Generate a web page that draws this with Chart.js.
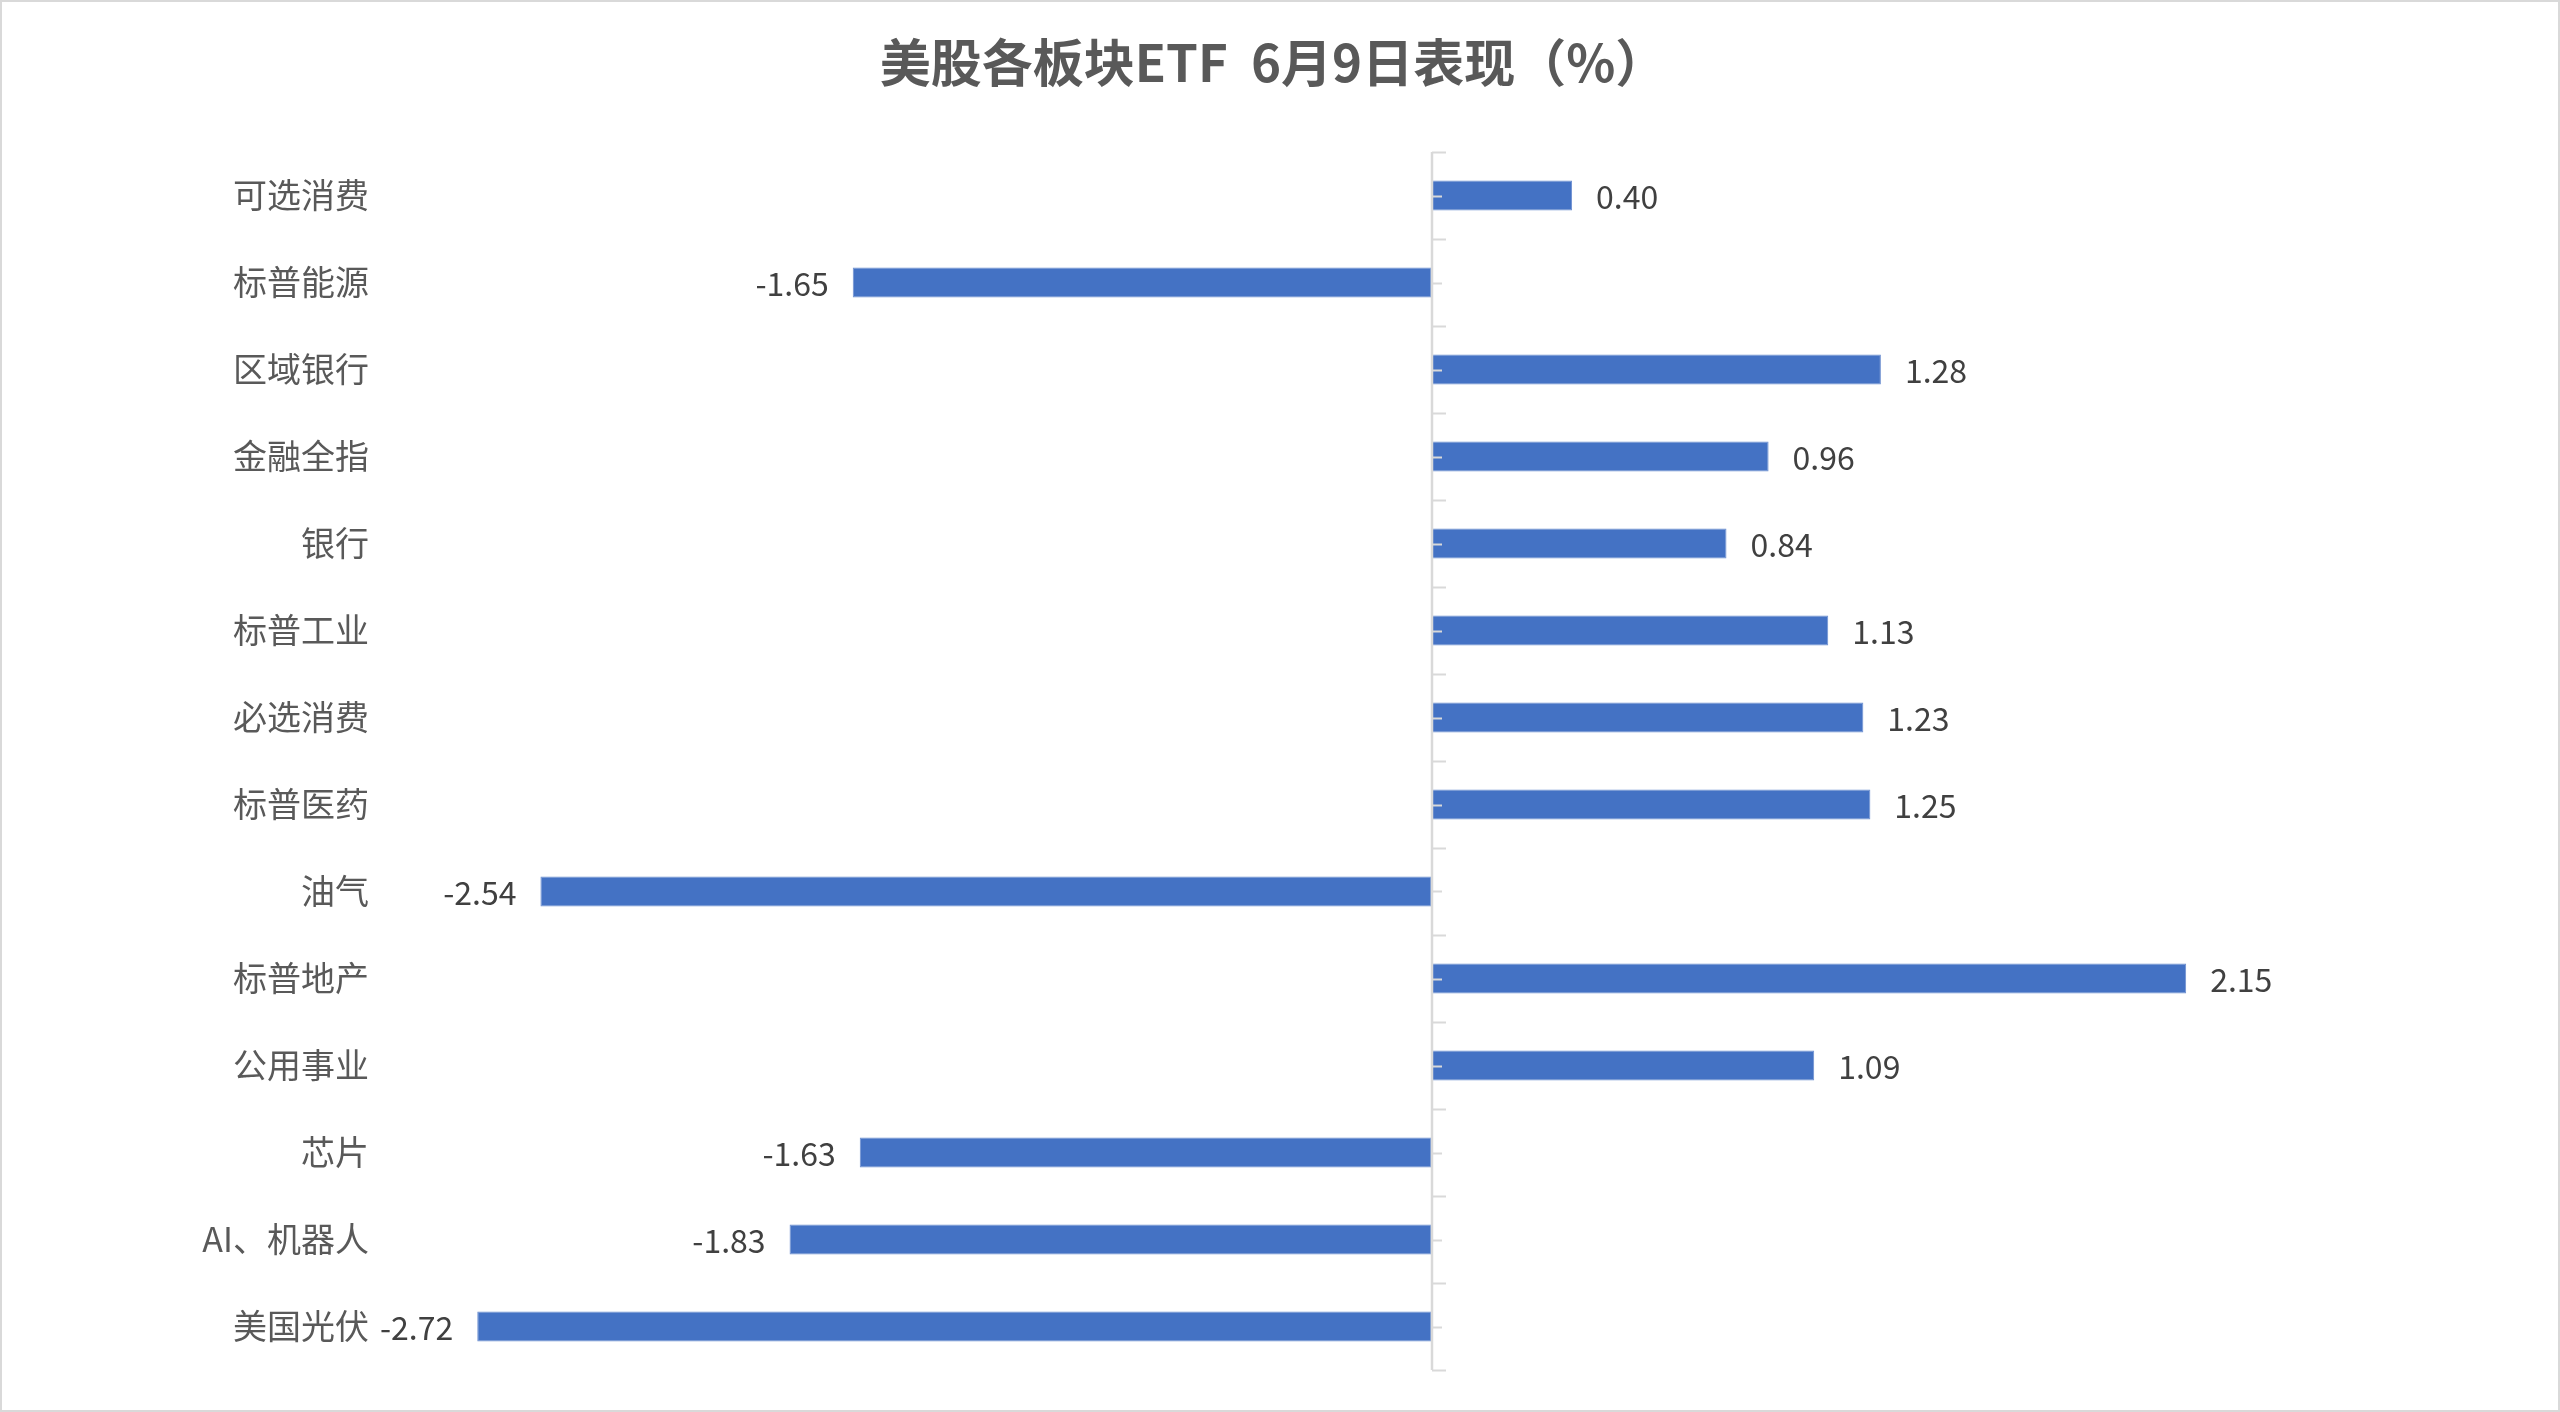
<!DOCTYPE html>
<html><head><meta charset="utf-8">
<script src="https://cdn.jsdelivr.net/npm/chart.js@4.4.1/dist/chart.umd.min.js"></script>
<style>
html,body{margin:0;padding:0;background:#fff;}
#wrap{position:relative;width:2560px;height:1412px;}
#frame{position:absolute;left:0;top:0;width:2556px;height:1408px;border:2px solid #d9d9d9;pointer-events:none;}
</style></head>
<body>
<div id="wrap"><canvas id="c" width="2560" height="1412"></canvas><div id="frame"></div></div>
<script>
const title = '美股各板块ETF  6月9日表现（%）';
const categories = ['可选消费','标普能源','区域银行','金融全指','银行','标普工业','必选消费','标普医药','油气','标普地产','公用事业','芯片','AI、机器人','美国光伏'];
const values = [0.40,-1.65,1.28,0.96,0.84,1.13,1.23,1.25,-2.54,2.15,1.09,-1.63,-1.83,-2.72];
const axisMin = -3, axisMax = 2.5;

const FONT = '"Noto Sans CJK SC", "Noto Sans", sans-serif';

const axisAndLabels = {
  id: 'axisAndLabels',
  afterDatasetsDraw(chart) {
    const ctx = chart.ctx, x = chart.scales.x, y = chart.scales.y;
    const x0 = Math.round(x.getPixelForValue(0));
    const n = categories.length;
    const step = (y.bottom - y.top) / n;
    ctx.save();
    // title
    ctx.font = 'bold 51px ' + FONT;
    ctx.fillStyle = '#595959';
    ctx.textAlign = 'center';
    ctx.textBaseline = 'middle';
    ctx.fillText(title, 1273, 63);
    ctx.strokeStyle = '#d9d9d9';
    ctx.lineWidth = 2.5;
    ctx.beginPath();
    ctx.moveTo(x0, y.top); ctx.lineTo(x0, y.bottom); ctx.stroke();
    ctx.lineWidth = 2;
    for (let i = 0; i <= n; i++) {
      const py = Math.round(y.top + i * step) + 0.5;
      ctx.beginPath(); ctx.moveTo(x0, py); ctx.lineTo(x0 + 14, py); ctx.stroke();
    }
    for (let i = 0; i < n; i++) {
      const py = Math.round(y.getPixelForTick(i)) + 0.5;
      ctx.beginPath(); ctx.moveTo(x0, py); ctx.lineTo(x0 + 10, py); ctx.stroke();
    }
    // data labels
    const meta = chart.getDatasetMeta(0);
    ctx.font = '32px ' + FONT;
    ctx.fillStyle = '#404040';
    ctx.textBaseline = 'middle';
    meta.data.forEach((bar, i) => {
      const v = values[i];
      const txt = v.toFixed(2);
      if (v >= 0) { ctx.textAlign = 'left'; ctx.fillText(txt, bar.x + 24, bar.y + 1); }
      else { ctx.textAlign = 'right'; ctx.fillText(txt, bar.x - 24, bar.y + 1); }
    });
    ctx.restore();
  }
};

new Chart(document.getElementById('c'), {
  type: 'bar',
  data: {
    labels: categories,
    datasets: [{
      data: values,
      backgroundColor: '#4472C4',
      borderColor: '#6d8fd0',
      borderWidth: 1,
      borderSkipped: false,
      categoryPercentage: 0.5,
      barPercentage: 0.69
    }]
  },
  options: {
    indexAxis: 'y',
    responsive: false,
    animation: false,
    devicePixelRatio: 1,
    layout: { padding: { left: 0, right: 251, top: 152, bottom: 42 } },
    plugins: {
      legend: { display: false },
      tooltip: { enabled: false },
      title: { display: false }
    },
    scales: {
      x: {
        display: false,
        min: axisMin,
        max: axisMax
      },
      y: {
        grid: { display: false, drawTicks: false },
        border: { display: false },
        ticks: {
          color: '#595959',
          padding: 10,
          font: { family: FONT, size: 34 }
        },
        afterFit(scale) { scale.width = 379; }
      }
    }
  },
  plugins: [axisAndLabels]
});
</script>
</body></html>
